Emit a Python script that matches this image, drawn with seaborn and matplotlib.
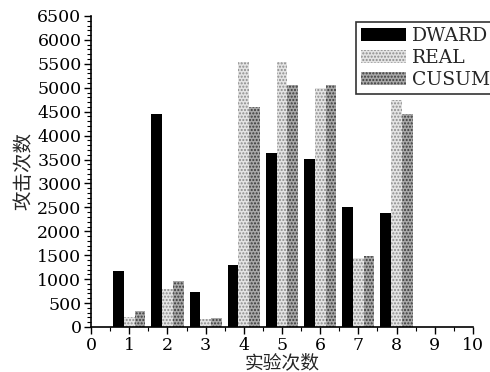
import matplotlib
matplotlib.use("Agg")
import matplotlib.pyplot as plt
import seaborn as sns
import pandas as pd
from matplotlib.ticker import MultipleLocator

trials = [1, 2, 3, 4, 5, 6, 7, 8]
dward = [1170, 4450, 740, 1300, 3640, 3510, 2510, 2390]
real = [210, 790, 175, 5530, 5540, 5000, 1450, 4740]
cusum = [335, 955, 190, 4590, 5050, 5050, 1480, 4460]
methods = ["DWARD", "REAL", "CUSUM"]

df = pd.DataFrame({
    "trial": trials * 3,
    "count": dward + real + cusum,
    "method": [m for m in methods for _ in trials],
})

sns.set_theme(style="ticks")
plt.rcParams['font.family'] = ['DejaVu Serif', 'Noto Sans CJK SC']

fig = plt.figure(figsize=(4.9, 3.72), dpi=100)
ax = fig.add_axes([0.186, 0.121, 0.779, 0.836])

sns.barplot(data=df, x="trial", y="count", hue="method", native_scale=True,
            width=0.84, palette=["black", "#d8d8d8", "#9a9a9a"], saturation=1,
            ax=ax, errorbar=None)

styles = {
    "DWARD": dict(fc="black", ec="black", hatch=None),
    "REAL": dict(fc="#e4e4e4", ec="#8c8c8c", hatch="....."),
    "CUSUM": dict(fc="#a8a8a8", ec="#3a3a3a", hatch="....."),
}
for cont, m in zip(ax.containers, methods):
    s = styles[m]
    for p in cont:
        p.set_facecolor(s["fc"])
        p.set_edgecolor(s["ec"])
        p.set_linewidth(0)
        if s["hatch"]:
            p.set_hatch(s["hatch"])

ax.set_xlim(0, 10)
ax.set_ylim(0, 6500)
ax.xaxis.set_major_locator(MultipleLocator(1))
ax.xaxis.set_minor_locator(MultipleLocator(0.5))
ax.yaxis.set_major_locator(MultipleLocator(500))
ax.yaxis.set_minor_locator(MultipleLocator(100))
ax.tick_params(axis="both", which="major", direction="out", length=5, width=1,
               labelsize=12.5, color="black", labelcolor="black", pad=2)
ax.tick_params(axis="both", which="minor", direction="out", length=3, width=0.8,
               color="black")
for sp in ["top", "right"]:
    ax.spines[sp].set_visible(False)
for sp in ["left", "bottom"]:
    ax.spines[sp].set_color("black")
    ax.spines[sp].set_linewidth(1.2)

ax.set_xlabel("实验次数", fontsize=13.5, labelpad=-1, family=['Noto Sans CJK SC'])
ax.set_ylabel("攻击次数", fontsize=14, labelpad=2, family=['Noto Sans CJK SC'])

handles, labels = ax.get_legend_handles_labels()
leg = ax.legend(handles, labels, loc="upper left", bbox_to_anchor=(0.695, 0.98),
                fontsize=13.5, frameon=True, fancybox=False, edgecolor="black",
                borderpad=0.25, handlelength=2.4, handletextpad=0.3,
                labelspacing=0.22, borderaxespad=0)
leg.get_frame().set_linewidth(1.2)
for h, m in zip(leg.legend_handles, methods):
    s = styles[m]
    h.set_facecolor(s["fc"])
    h.set_edgecolor(s["ec"])
    h.set_linewidth(0)
    if s["hatch"]:
        h.set_hatch(s["hatch"])

fig.savefig("out.png", dpi=100)
